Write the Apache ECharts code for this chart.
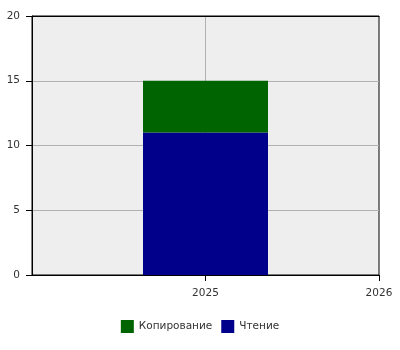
<!DOCTYPE html>
<html><head><meta charset="utf-8">
<script src="https://cdn.jsdelivr.net/npm/echarts@6/dist/echarts.min.js"></script>
<style>html,body{margin:0;padding:0;background:#fff}#c{width:400px;height:350px}</style>
</head><body><div id="c"></div>
<script>
var xCategories = ['2024', '2025', '2026'];
var xTickYears = [2025, 2026];
var years = ['2025'];
var readValues = [11];
var copyValues = [4];
var yTicks = [0, 5, 10, 15, 20];
var legendNames = ['Копирование', 'Чтение'];

var chart = echarts.init(document.getElementById('c'), null, {renderer: 'canvas'});
var font = 'DejaVu Sans';
var fs = 10.5;
chart.setOption({
  animation: false,
  grid: {left: 32, right: 21, top: 16, bottom: 75, show: true, backgroundColor: '#eeeeee', borderColor: '#000', borderWidth: 1},
  legend: {
    data: legendNames, bottom: 12, left: 'center', icon: 'rect', itemWidth: 13, itemHeight: 13, itemGap: 9,
    textStyle: {fontFamily: font, fontSize: fs, color: '#333'}
  },
  xAxis: [{
    type: 'category', data: xCategories, boundaryGap: false,
    axisLine: {show: false}, axisTick: {show: false}, axisLabel: {show: false},
    splitLine: {show: true, lineStyle: {color: '#b0b0b0'}, interval: function(i){ return i === 1; }}
  }, {
    type: 'value', min: Number(xCategories[0]), max: Number(xCategories[xCategories.length-1]) + 0.0003,
    position: 'bottom',
    axisLine: {show: true, lineStyle: {color: '#000'}},
    axisTick: {show: true, length: 6, lineStyle: {color: '#000'}, customValues: xTickYears},
    axisLabel: {fontFamily: font, fontSize: fs, color: '#333', margin: 13, customValues: xTickYears,
      formatter: function(v){ return String(v); }},
    splitLine: {show: false}
  }, {
    type: 'value', min: 0, max: 1, position: 'top',
    axisLine: {show: true, lineStyle: {color: '#000'}},
    axisTick: {show: false}, axisLabel: {show: false}, splitLine: {show: false}
  }],
  yAxis: [{
    type: 'value', min: yTicks[0], max: yTicks[yTicks.length-1], interval: 5,
    axisLine: {show: true, lineStyle: {color: '#000'}},
    axisTick: {show: true, length: 6, lineStyle: {color: '#000'}},
    axisLabel: {fontFamily: font, fontSize: fs, color: '#333', margin: 12},
    splitLine: {show: true, lineStyle: {color: '#b0b0b0'}}
  }],
  series: [
    {name: 'Чтение', type: 'bar', stack: 's', barWidth: 125, xAxisIndex: 0, yAxisIndex: 0, itemStyle: {color: '#00008b'},
      data: years.map(function(y,i){return [y, readValues[i]];})},
    {name: 'Копирование', type: 'bar', stack: 's', barWidth: 125, xAxisIndex: 0, yAxisIndex: 0, itemStyle: {color: '#006400'},
      data: years.map(function(y,i){return [y, copyValues[i]];})}
  ]
});
</script></body></html>
